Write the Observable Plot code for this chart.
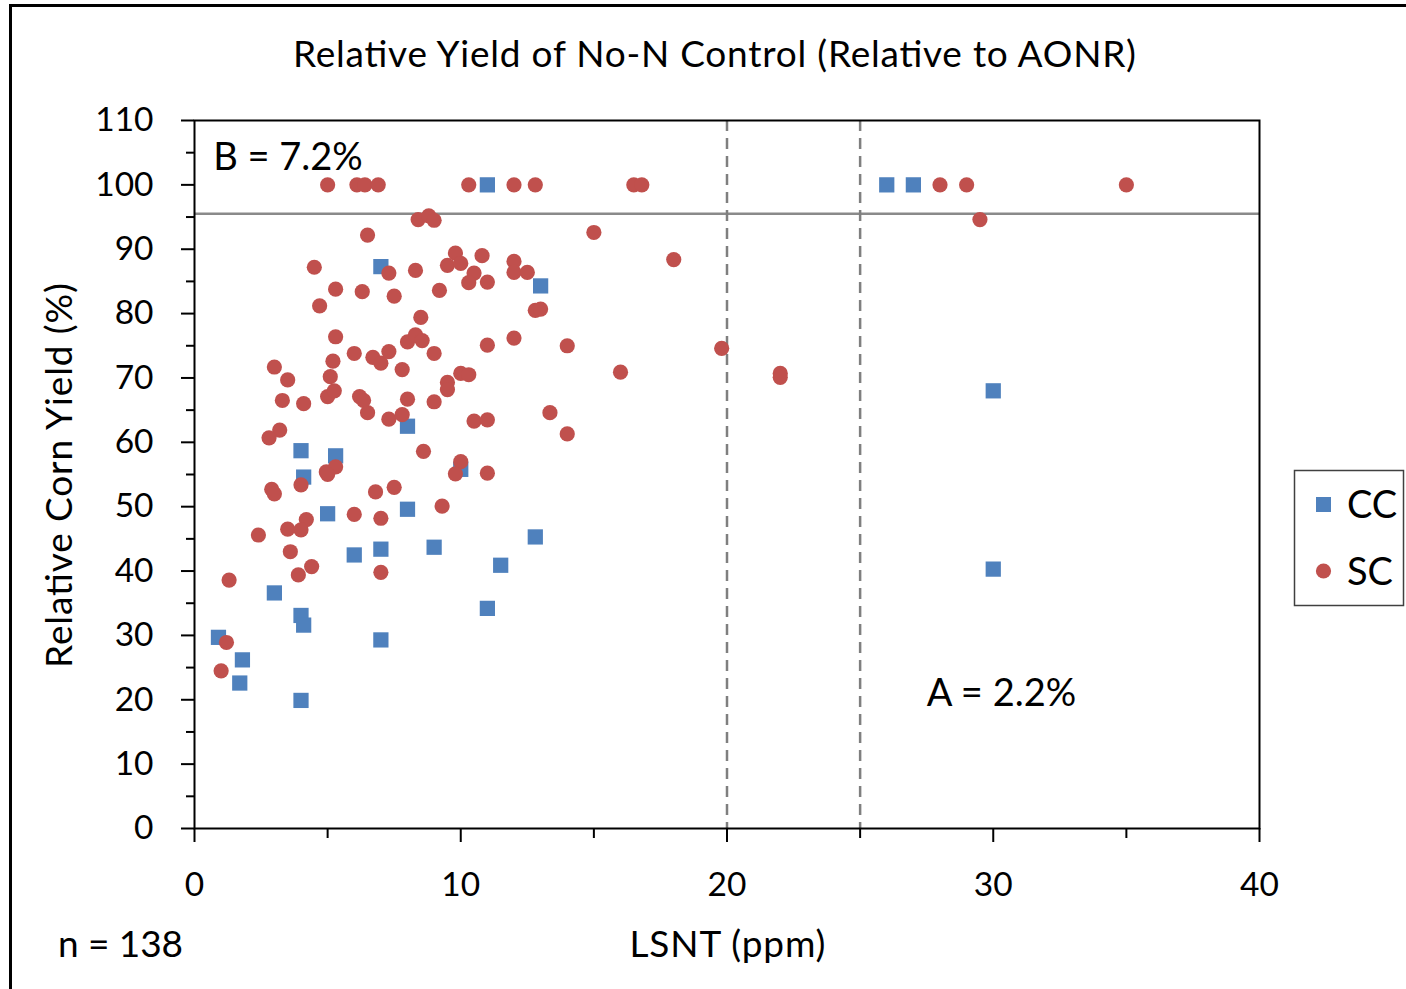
<!DOCTYPE html>
<html>
<head>
<meta charset="utf-8">
<script src="https://cdn.jsdelivr.net/npm/d3@7"></script>
<script src="https://cdn.jsdelivr.net/npm/@observablehq/plot@0.6"></script>
<style>
  html, body { margin: 0; padding: 0; background: #fff; overflow: hidden; }
  #wrap { position: relative; width: 1406px; height: 989px; }
  #frame { position: absolute; left: 9px; top: 4px; width: 1500px; height: 1100px;
           border-left: 3px solid #000; border-top: 3px solid #000; pointer-events: none; }
  svg { position: absolute; left: 0; top: 0; }
</style>
</head>
<body>
<div id="wrap"><div id="frame"></div></div>
<script>
// ---- Data ----
const ccX = [0.9, 1.8, 1.7, 3.0, 4.0, 4.1, 4.0, 4.1, 4.0, 5.0, 5.3, 6.0, 7.0, 7.0, 7.0, 8.0, 8.0, 9.0, 10.0, 11.0, 11.0, 11.5, 12.8, 13.0, 26.0, 27.0, 30.0, 30.0];
const ccY = [29.7, 26.2, 22.6, 36.6, 58.7, 54.6, 33.1, 31.6, 19.9, 48.9, 57.9, 42.5, 87.3, 43.4, 29.3, 62.5, 49.6, 43.7, 55.8, 100, 34.2, 40.9, 45.3, 84.3, 100, 100, 68.0, 40.3];

const scX = [5.0, 6.1, 6.4, 6.9, 10.3, 12.0, 12.8, 16.5, 16.8, 28.0, 29.0, 35.0,
  8.4, 8.8, 9.0, 29.5, 6.5, 15.0,
  4.5, 7.3, 8.3, 9.5, 9.8, 10.0, 10.8, 10.5, 10.3, 11.0, 12.0, 12.0, 12.5, 18.0,
  5.3, 6.3, 7.5, 9.2, 4.7, 8.5, 12.8, 13.0,
  5.3, 8.0, 8.3, 8.55, 9.0, 11.0, 12.0, 14.0, 19.8,
  6.0, 5.2, 5.1, 6.7, 7.0, 7.3, 7.8, 3.0, 3.5, 10.0, 10.3, 9.5, 9.5, 16.0, 22.0, 22.0,
  3.3, 4.1, 5.0, 5.25, 6.2, 6.35, 6.5, 8.0, 9.0, 7.3, 7.8, 10.5, 11.0, 13.35,
  3.2, 2.8, 14.0, 8.6,
  10.0, 9.8, 11.0, 4.95, 5.3, 5.0, 4.0, 2.9, 3.0, 6.8, 7.5, 9.3,
  6.0, 7.0, 4.2, 4.0, 3.5, 2.4, 3.6, 4.4, 3.9, 7.0, 1.3, 1.2, 1.0];
const scY = [100, 100, 100, 100, 100, 100, 100, 100, 100, 100, 100, 100,
  94.6, 95.2, 94.5, 94.6, 92.2, 92.6,
  87.2, 86.3, 86.7, 87.5, 89.4, 87.8, 89.0, 86.3, 84.8, 84.9, 88.1, 86.4, 86.4, 88.4,
  83.8, 83.4, 82.7, 83.6, 81.2, 79.4, 80.5, 80.7,
  76.4, 75.6, 76.7, 75.8, 73.8, 75.1, 76.2, 75.0, 74.6,
  73.8, 72.6, 70.2, 73.2, 72.3, 74.1, 71.3, 71.7, 69.7, 70.7, 70.5, 69.3, 68.2, 70.9, 70.7, 70.1,
  66.5, 66.0, 67.1, 68.0, 67.1, 66.5, 64.6, 66.7, 66.3, 63.6, 64.3, 63.3, 63.5, 64.6,
  61.9, 60.7, 61.3, 58.6,
  57.0, 55.1, 55.2, 55.4, 56.2, 55.0, 53.4, 52.7, 52.0, 52.3, 53.0, 50.1,
  48.8, 48.2, 48.0, 46.4, 46.5, 45.6, 43.0, 40.7, 39.4, 39.8, 38.6, 28.9, 24.5];

const seriesNames = ["CC", "SC"];
const seriesColors = ["#4F81BD", "#C0504D"];
const refY = [95.5];          // horizontal reference line
const refX = [20, 25];        // dashed vertical lines
const yMajor = [0, 10, 20, 30, 40, 50, 60, 70, 80, 90, 100, 110];
const yMinor = [5, 15, 25, 35, 45, 55, 65, 75, 85, 95, 105];
const xMajor = [0, 10, 20, 30, 40];
const xMinor = [5, 15, 25, 35];
const noteText = ["B = 7.2%", "A = 2.2%"];
const noteX = [0.7, 27.5];
const noteY = [104.2, 20.9];
const titleText = "Relative Yield of No-N Control (Relative to AONR)";
const xTitle = "LSNT (ppm)";
const yTitle = "Relative Corn Yield (%)";
const nText = "n = 138";

const cc = ccX.map((x, i) => ({x, y: ccY[i]}));
const sc = scX.map((x, i) => ({x, y: scY[i]}));
const notes = noteText.map((t, i) => ({t, x: noteX[i], y: noteY[i]}));

const FONT = "Lato, 'Open Sans', sans-serif";

const chart = Plot.plot({
  width: 1406, height: 989,
  marginLeft: 194, marginRight: 147, marginTop: 120, marginBottom: 161,
  x: {domain: [0, 40]},
  y: {domain: [0, 110]},
  style: {fontFamily: FONT, fontSize: "33.5px", color: "#000", background: "transparent", overflow: "visible"},
  marks: [
    Plot.ruleY(refY, {stroke: "#8a8a8a", strokeWidth: 2.5}),
    Plot.ruleX(refX, {stroke: "#7f7f7f", strokeWidth: 2.5, strokeDasharray: "11,7"}),
    Plot.dot(cc, {x: "x", y: "y", symbol: "square", r: 8.6, fill: seriesColors[0]}),
    Plot.dot(sc, {x: "x", y: "y", symbol: "circle", r: 7.6, fill: seriesColors[1]}),
    Plot.frame({stroke: "#000", strokeWidth: 2}),
    Plot.axisY(yMajor, {tickSize: 13, tickPadding: 28, strokeWidth: 2, label: null, fontSize: 33.5}),
    Plot.axisY(yMinor, {tickSize: 8, strokeWidth: 2, label: null, tickFormat: () => ""}),
    Plot.axisX(xMajor, {tickSize: 14, tickPadding: 30, strokeWidth: 2, label: null, fontSize: 33.5}),
    Plot.axisX(xMinor, {tickSize: 10, strokeWidth: 2, label: null, tickFormat: () => ""}),
    Plot.text(notes, {x: "x", y: "y", text: "t", textAnchor: "start", fontSize: 38, fill: "#000"})
  ]
});
document.getElementById("wrap").appendChild(chart);

// ---- Titles, caption and legend added to the same SVG ----
const svg = d3.select(chart);
const g = svg.append("g").attr("font-family", FONT).attr("fill", "#000");
g.append("text").attr("x", 714.5).attr("y", 67).attr("text-anchor", "middle")
  .attr("font-size", 37).attr("textLength", 843).attr("lengthAdjust", "spacing").text(titleText);
g.append("text").attr("x", 727.5).attr("y", 957).attr("text-anchor", "middle")
  .attr("font-size", 37).attr("textLength", 196).attr("lengthAdjust", "spacing").text(xTitle);
g.append("text").attr("x", 58).attr("y", 957).attr("text-anchor", "start")
  .attr("font-size", 37).attr("textLength", 125).attr("lengthAdjust", "spacing").text(nText);
g.append("text").attr("transform", "translate(72,475.5) rotate(-90)").attr("text-anchor", "middle")
  .attr("font-size", 37).attr("textLength", 385).attr("lengthAdjust", "spacing").text(yTitle);

const lg = g.append("g");
lg.append("rect").attr("x", 1294.5).attr("y", 470.5).attr("width", 109).attr("height", 135)
  .attr("fill", "#fff").attr("stroke", "#404040").attr("stroke-width", 1.5);
lg.append("rect").attr("x", 1316).attr("y", 497).attr("width", 15).attr("height", 15).attr("fill", seriesColors[0]);
lg.append("circle").attr("cx", 1323.5).attr("cy", 571).attr("r", 7.6).attr("fill", seriesColors[1]);
lg.append("text").attr("x", 1347).attr("y", 518).attr("text-anchor", "start").attr("font-size", 38).text(seriesNames[0]);
lg.append("text").attr("x", 1347).attr("y", 585).attr("text-anchor", "start").attr("font-size", 38).text(seriesNames[1]);
</script>
</body>
</html>
